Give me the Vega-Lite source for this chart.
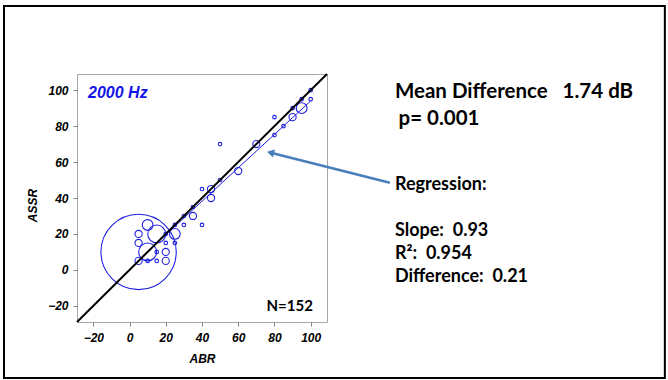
{
  "$schema": "https://vega.github.io/schema/vega-lite/v6.json",
  "width": 250,
  "height": 248,
  "autosize": {"type": "none"},
  "padding": {"left": 77, "top": 74, "right": 341, "bottom": 58},
  "background": "white",
  "config": {
    "view": {"stroke": "#a6a6a6", "strokeWidth": 1},
    "axis": {
      "grid": false,
      "domain": false,
      "tickColor": "#808080",
      "tickSize": 4,
      "labelFont": "Liberation Sans",
      "labelFontWeight": "bold",
      "labelFontStyle": "italic",
      "labelFontSize": 12,
      "labelColor": "#000000",
      "titleFont": "Liberation Sans",
      "titleFontWeight": "bold",
      "titleFontStyle": "italic",
      "titleFontSize": 12,
      "titleColor": "#000000"
    }
  },
  "datasets": {
    "bubbles": [
      {"abr": 5, "assr": 10, "n": 21},
      {"abr": 15, "assr": 20, "n": 5},
      {"abr": 10, "assr": 10, "n": 5},
      {"abr": 10, "assr": 25, "n": 3},
      {"abr": 5, "assr": 20, "n": 2},
      {"abr": 5, "assr": 15, "n": 2},
      {"abr": 5, "assr": 5, "n": 2},
      {"abr": 10, "assr": 5, "n": 1},
      {"abr": 15, "assr": 5, "n": 1},
      {"abr": 15, "assr": 10, "n": 1},
      {"abr": 20, "assr": 5, "n": 2},
      {"abr": 20, "assr": 10, "n": 2},
      {"abr": 20, "assr": 15, "n": 1},
      {"abr": 25, "assr": 15, "n": 1},
      {"abr": 20, "assr": 20, "n": 1},
      {"abr": 25, "assr": 20, "n": 3},
      {"abr": 25, "assr": 25, "n": 1},
      {"abr": 30, "assr": 25, "n": 1},
      {"abr": 30, "assr": 30, "n": 1},
      {"abr": 35, "assr": 30, "n": 2},
      {"abr": 35, "assr": 35, "n": 1},
      {"abr": 40, "assr": 25, "n": 1},
      {"abr": 40, "assr": 45, "n": 1},
      {"abr": 45, "assr": 45, "n": 2},
      {"abr": 45, "assr": 40, "n": 2},
      {"abr": 50, "assr": 50, "n": 1},
      {"abr": 50, "assr": 70, "n": 1},
      {"abr": 60, "assr": 55, "n": 2},
      {"abr": 70, "assr": 70, "n": 2},
      {"abr": 80, "assr": 85, "n": 1},
      {"abr": 80, "assr": 75, "n": 1},
      {"abr": 85, "assr": 80, "n": 1},
      {"abr": 90, "assr": 90, "n": 1},
      {"abr": 90, "assr": 85, "n": 2},
      {"abr": 95, "assr": 90, "n": 3},
      {"abr": 95, "assr": 95, "n": 1},
      {"abr": 100, "assr": 100, "n": 1},
      {"abr": 100, "assr": 95, "n": 1}
    ],
    "identity": [{"abr": -29, "assr": -29}, {"abr": 109, "assr": 109}],
    "regression": [{"abr": 7, "assr": 7.5}, {"abr": 100, "assr": 94}],
    "notes": [
      {"label": "Mean Difference\u00a0\u00a0\u00a01.74 dB", "abr": 146.5, "assr": 95.5, "grp": "big"},
      {"label": "p= 0.001", "abr": 148.5, "assr": 80.6, "grp": "big"},
      {"label": "Regression:", "abr": 146.5, "assr": 44.4, "grp": "small"},
      {"label": "Slope:\u00a0\u00a00.93", "abr": 146.5, "assr": 18.8, "grp": "small"},
      {"label": "R²:\u00a0\u00a00.954", "abr": 146.5, "assr": 6.1, "grp": "small"},
      {"label": "Difference:\u00a0\u00a00.21", "abr": 146.5, "assr": -6.7, "grp": "small"}
    ]
  },
  "layer": [
    {
      "data": {"name": "bubbles"},
      "mark": {"type": "point", "shape": "circle", "filled": false, "color": "#1f1fe0", "strokeWidth": 1.1, "opacity": 1},
      "encoding": {
        "x": {
          "field": "abr", "type": "quantitative",
          "scale": {"domain": [-29, 109], "nice": false, "zero": false},
          "axis": {"title": "ABR", "values": [-20, 0, 20, 40, 60, 80, 100], "labelPadding": 6, "titleY": 31}
        },
        "y": {
          "field": "assr", "type": "quantitative",
          "scale": {"domain": [-29, 109], "nice": false, "zero": false},
          "axis": {"title": "ASSR", "values": [-20, 0, 20, 40, 60, 80, 100], "labelPadding": 5, "titleX": -38, "titleY": 131}
        },
        "size": {
          "field": "n", "type": "quantitative",
          "scale": {"type": "pow", "exponent": 2, "domain": [0, 21], "range": [0, 5675]},
          "legend": null
        }
      }
    },
    {
      "data": {"name": "regression"},
      "mark": {"type": "line", "color": "#1f1fe0", "strokeWidth": 1},
      "encoding": {
        "x": {"field": "abr", "type": "quantitative"},
        "y": {"field": "assr", "type": "quantitative"}
      }
    },
    {
      "data": {"name": "identity"},
      "mark": {"type": "line", "color": "#000000", "strokeWidth": 2},
      "encoding": {
        "x": {"field": "abr", "type": "quantitative"},
        "y": {"field": "assr", "type": "quantitative"}
      }
    },
    {
      "data": {"values": [{"label": "2000 Hz"}]},
      "mark": {"type": "text", "align": "left", "baseline": "middle", "font": "Liberation Sans", "fontWeight": "bold", "fontStyle": "italic", "fontSize": 16, "color": "#1414e6"},
      "encoding": {
        "x": {"datum": -22.9, "type": "quantitative"},
        "y": {"datum": 98.4, "type": "quantitative"},
        "text": {"field": "label"}
      }
    },
    {
      "data": {"values": [{"label": "N=152"}]},
      "mark": {"type": "text", "align": "right", "baseline": "middle", "font": "Lato", "fontWeight": "bold", "fontSize": 15, "color": "#000000"},
      "encoding": {
        "x": {"datum": 101.2, "type": "quantitative"},
        "y": {"datum": -20.1, "type": "quantitative"},
        "text": {"field": "label"}
      }
    },
    {
      "data": {"name": "notes"},
      "transform": [{"filter": "datum.grp == 'big'"}],
      "mark": {"type": "text", "align": "left", "baseline": "alphabetic", "font": "Lato", "fontWeight": "bold", "fontSize": 20.5, "color": "#000000"},
      "encoding": {
        "x": {"field": "abr", "type": "quantitative"},
        "y": {"field": "assr", "type": "quantitative"},
        "text": {"field": "label"}
      }
    },
    {
      "data": {"name": "notes"},
      "transform": [{"filter": "datum.grp == 'small'"}],
      "mark": {"type": "text", "align": "left", "baseline": "alphabetic", "font": "Lato", "fontWeight": "bold", "fontSize": 18, "color": "#000000"},
      "encoding": {
        "x": {"field": "abr", "type": "quantitative"},
        "y": {"field": "assr", "type": "quantitative"},
        "text": {"field": "label"}
      }
    },
    {
      "data": {"values": [{}]},
      "mark": {"type": "rule", "color": "#4A7EBB", "strokeWidth": 2.5},
      "encoding": {
        "x": {"datum": 143.7, "type": "quantitative"},
        "y": {"datum": 48.5, "type": "quantitative"},
        "x2": {"datum": 78},
        "y2": {"datum": 65.2}
      }
    },
    {
      "data": {"values": [{}]},
      "mark": {"type": "point", "shape": "triangle-left", "angle": 14, "filled": true, "color": "#4A7EBB", "size": 70, "opacity": 1},
      "encoding": {
        "x": {"datum": 77.8, "type": "quantitative"},
        "y": {"datum": 65.25, "type": "quantitative"}
      }
    },
    {
      "data": {"values": [{}]},
      "mark": {"type": "rect", "fill": null, "stroke": "#000000", "strokeWidth": 2},
      "encoding": {
        "x": {"datum": -69.3, "type": "quantitative"},
        "x2": {"datum": 295.5},
        "y": {"datum": 146.8, "type": "quantitative"},
        "y2": {"datum": -60.2}
      }
    }
  ]
}
